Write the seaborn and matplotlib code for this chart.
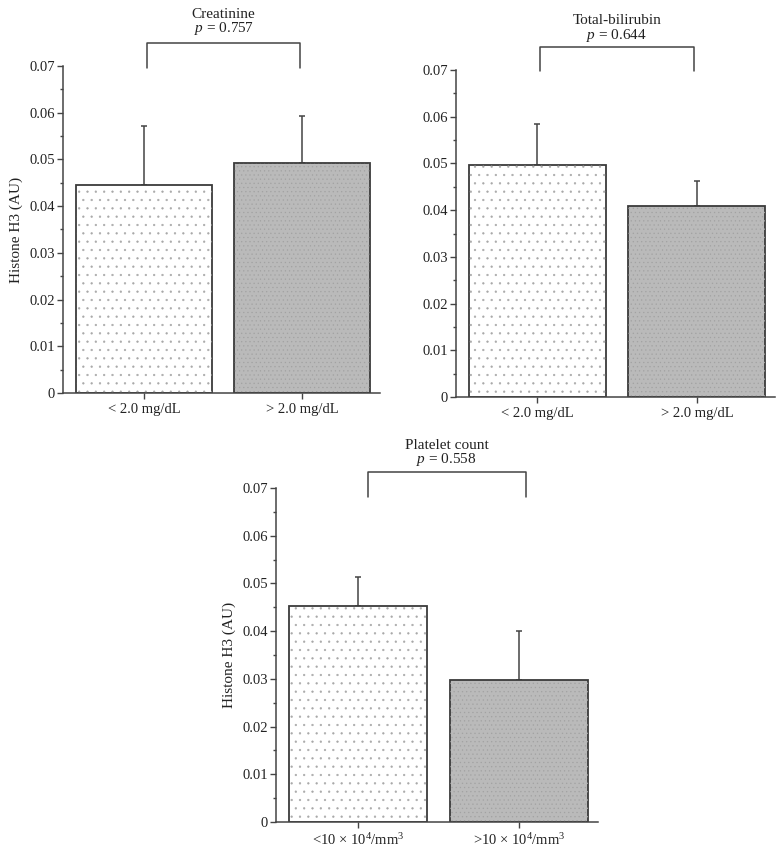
import seaborn as sns, matplotlib
matplotlib.use('Agg')
import matplotlib.pyplot as plt
from matplotlib.patches import Rectangle
from matplotlib.ticker import MultipleLocator, FuncFormatter

# values
crea_labels = ['< 2.0 mg/dL', '> 2.0 mg/dL']
crea_means = [0.0445, 0.0492]
crea_err = [0.0127, 0.0102]
crea_title = 'Creatinine'
crea_p = '0.757'

bili_labels = ['< 2.0 mg/dL', '> 2.0 mg/dL']
bili_means = [0.0497, 0.0408]
bili_err = [0.0087, 0.0055]
bili_title = 'Total-bilirubin'
bili_p = '0.644'

plt_labels = [r'<10 × 10$^{4}$/mm$^{3}$', r'>10 × 10$^{4}$/mm$^{3}$']
plt_means = [0.0452, 0.0298]
plt_err = [0.0062, 0.0102]
plt_title = 'Platelet count'
plt_p = '0.558'

ylab = 'Histone H3 (AU)'

sns.set_style('ticks')
plt.rcParams['font.family'] = ['Liberation Serif', 'DejaVu Serif']
plt.rcParams['mathtext.fontset'] = 'custom'
plt.rcParams['mathtext.rm'] = 'Liberation Serif'
plt.rcParams['mathtext.it'] = 'Liberation Serif:italic'
plt.rcParams['hatch.linewidth'] = 0.4

fig = plt.figure(figsize=(7.84, 8.52), dpi=100)
W, H = 784, 852

def px_axes(l, t, r, b):
    return fig.add_axes([l / W, 1 - b / H, (r - l) / W, (b - t) / H])

def panel(ax, labels, means, errs, title, pval, ylabel, brk, ttl_off):
    sns.barplot(x=labels, y=means, hue=labels, palette=['white', '#bababa'], legend=False,
                width=0.86, edgecolor='#3a3a3a', linewidth=1.3, ax=ax, zorder=2)
    # dotted fill pattern on top of the bars
    for p, hatch, hc in zip(list(ax.patches), ['..', '....'], ['#a8a8a8', '#a2a2a2']):
        ax.add_patch(Rectangle(p.get_xy(), p.get_width(), p.get_height(), fill=False,
                               hatch=hatch, edgecolor=hc, linewidth=0, zorder=2.5))
    ax.errorbar(range(len(labels)), means, yerr=[[0] * len(errs), errs], fmt='none',
                ecolor='#444444', elinewidth=1.1, capsize=2.5, capthick=1.1, zorder=1)
    ax.set_xlim(-0.51, 1.49)
    ax.set_ylim(0, 0.07)
    ax.yaxis.set_major_locator(MultipleLocator(0.01))
    ax.yaxis.set_minor_locator(MultipleLocator(0.005))
    ax.yaxis.set_major_formatter(FuncFormatter(lambda v, _: '0' if abs(v) < 1e-9 else f'{v:.2f}'))
    ax.tick_params(axis='both', which='major', length=4, width=1, color='#444444',
                   labelsize=10.5, labelcolor='#222222', pad=2)
    ax.tick_params(axis='y', which='minor', length=2.5, width=1, color='#444444')
    ax.tick_params(axis='x', pad=3)
    for s in ['top', 'right']:
        ax.spines[s].set_visible(False)
    for s in ['left', 'bottom']:
        ax.spines[s].set_color('#444444')
        ax.spines[s].set_linewidth(1.1)
    ax.set_xlabel('')
    if ylabel:
        ax.set_ylabel(ylabel, fontsize=11, color='#222222', labelpad=4)
    else:
        ax.set_ylabel('')
    x0, x1, ylo, yhi = brk
    ax.plot([x0, x0, x1, x1], [ylo, yhi, yhi, ylo], color='#444444', lw=1.1, clip_on=False)
    xm = (x0 + x1) / 2
    ax.annotate(title, xy=(xm, 1), xycoords=('data', 'axes fraction'), xytext=(0, ttl_off[0]),
                textcoords='offset pixels', ha='center', va='center', fontsize=11, color='#222222')
    ax.annotate('$p$ = ' + pval, xy=(xm, 1), xycoords=('data', 'axes fraction'), xytext=(0, ttl_off[1]),
                textcoords='offset pixels', ha='center', va='center', fontsize=11, color='#222222')

ax1 = px_axes(63, 66, 380, 393)
panel(ax1, crea_labels, crea_means, crea_err, crea_title, crea_p, ylab,
      (0.02, 0.985, 0.0696, 0.0749), (51, 37))

ax2 = px_axes(456, 70, 775, 397)
panel(ax2, bili_labels, bili_means, bili_err, bili_title, bili_p, None,
      (0.015, 0.98, 0.0697, 0.0749), (50, 35))

ax3 = px_axes(276, 488, 598, 822)
panel(ax3, plt_labels, plt_means, plt_err, plt_title, plt_p, ylab,
      (0.06, 1.04, 0.0681, 0.0734), (43, 29))

fig.savefig('out.png', dpi=100, facecolor='white')
